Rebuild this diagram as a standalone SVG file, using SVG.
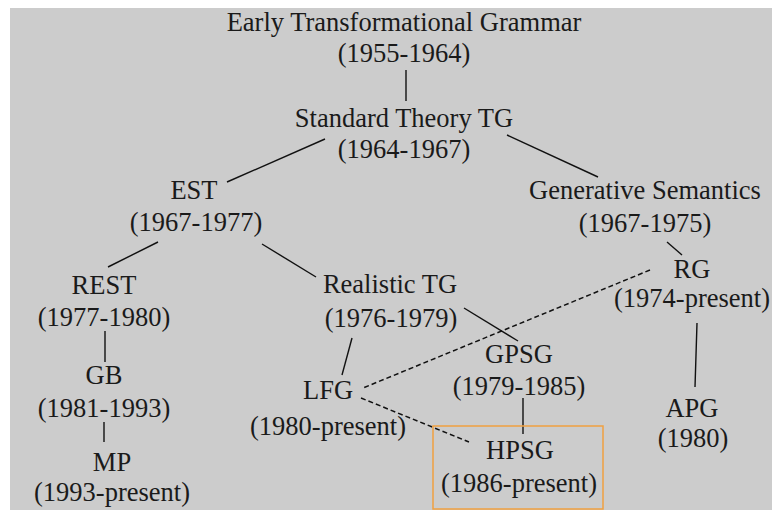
<svg xmlns="http://www.w3.org/2000/svg" width="772" height="510" viewBox="0 0 772 510">
<style>
text{font-family:"Liberation Serif","Times New Roman",serif;font-size:26.5px;fill:#1a1a1a;text-anchor:middle}
.l{stroke:#111;stroke-width:1.4;fill:none}
.d{stroke:#111;stroke-width:1.5;fill:none;stroke-dasharray:5 3}
</style>
<rect x="0" y="0" width="772" height="510" fill="#ffffff"/>
<rect x="10" y="8" width="762" height="502" fill="#cccccc"/>
<g id="connectors">
<line class="l" x1="406" y1="70" x2="406" y2="101"/>
<line class="l" x1="325" y1="139" x2="227" y2="182"/>
<line class="l" x1="507" y1="135" x2="598" y2="177"/>
<line class="l" x1="158" y1="242" x2="108" y2="267"/>
<line class="l" x1="262" y1="244" x2="316" y2="277"/>
<line class="l" x1="667" y1="242" x2="682" y2="255"/>
<line class="l" x1="105" y1="331" x2="105" y2="362"/>
<line class="l" x1="104" y1="422" x2="104" y2="442"/>
<line class="l" x1="352" y1="338" x2="342" y2="375"/>
<line class="l" x1="464" y1="308" x2="518" y2="341"/>
<line class="l" x1="523" y1="398" x2="523" y2="434"/>
<line class="l" x1="697" y1="323" x2="695" y2="387"/>
<line class="d" x1="650" y1="270" x2="363" y2="388"/>
<line class="d" x1="361" y1="398" x2="469" y2="442"/>
</g>
<g id="etg"><text x="404" y="31">Early Transformational Grammar</text><text x="404" y="62">(1955-1964)</text></g>
<g id="st"><text x="404" y="127">Standard Theory TG</text><text x="404" y="158">(1964-1967)</text></g>
<g id="est"><text x="194" y="199">EST</text><text x="196" y="231">(1967-1977)</text></g>
<g id="gs"><text x="645" y="199">Generative Semantics</text><text x="645" y="232">(1967-1975)</text></g>
<g id="rg"><text x="692" y="278">RG</text><text x="692" y="307">(1974-present)</text></g>
<g id="rest"><text x="104" y="294">REST</text><text x="104" y="326">(1977-1980)</text></g>
<g id="rtg"><text x="390" y="293">Realistic TG</text><text x="391" y="327">(1976-1979)</text></g>
<g id="gb"><text x="104" y="384">GB</text><text x="104" y="417">(1981-1993)</text></g>
<g id="mp"><text x="112" y="471">MP</text><text x="112" y="501">(1993-present)</text></g>
<g id="lfg"><text x="328" y="399">LFG</text><text x="328" y="435">(1980-present)</text></g>
<g id="gpsg"><text x="519" y="363">GPSG</text><text x="519" y="395">(1979-1985)</text></g>
<g id="hpsg"><rect x="433" y="426" width="170" height="83" fill="none" stroke="#f0a040" stroke-width="1.5"/><text x="520" y="459">HPSG</text><text x="519" y="492">(1986-present)</text></g>
<g id="apg"><text x="692" y="417">APG</text><text x="693" y="447">(1980)</text></g>
</svg>
